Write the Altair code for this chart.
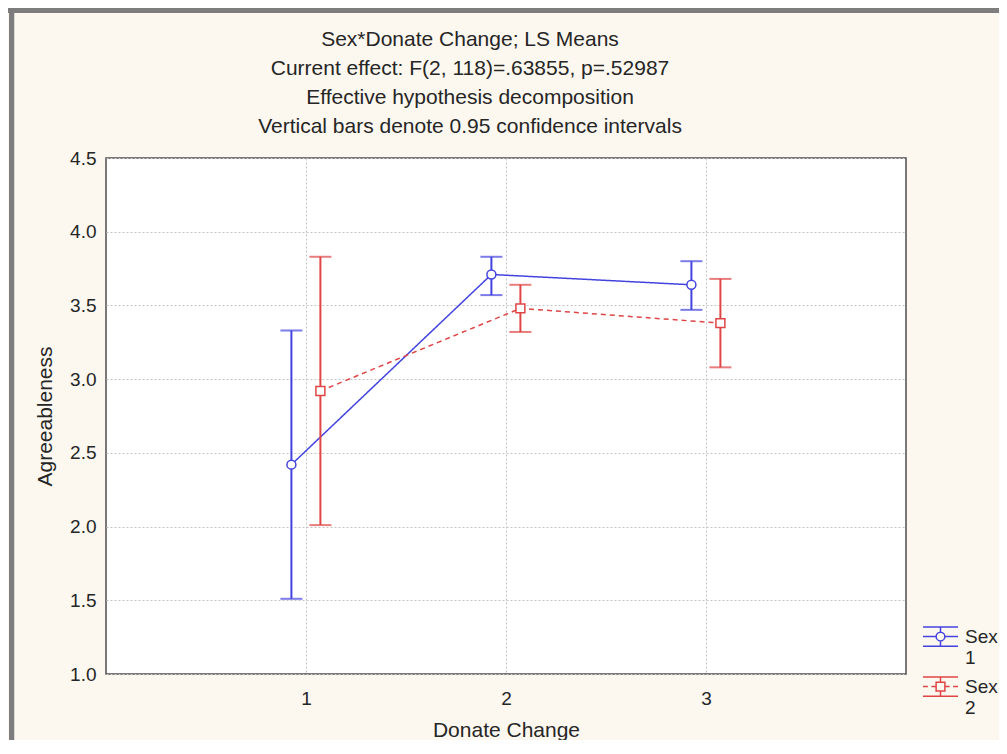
import altair as alt
import pandas as pd

# ---- data ----
categories = [1, 2, 3]
sex_levels = ["1", "2"]
sex1_mean = [2.42, 3.71, 3.64]
sex1_low = [1.51, 3.57, 3.47]
sex1_high = [3.33, 3.83, 3.80]
sex2_mean = [2.92, 3.48, 3.38]
sex2_low = [2.01, 3.32, 3.08]
sex2_high = [3.83, 3.64, 3.68]

title_lines = [
    "Sex*Donate Change; LS Means",
    "Current effect: F(2, 118)=.63855, p=.52987",
    "Effective hypothesis decomposition",
    "Vertical bars denote 0.95 confidence intervals",
]
y_ticks = [1.0, 1.5, 2.0, 2.5, 3.0, 3.5, 4.0, 4.5]

rows = []
for s, means, lows, highs in [("1", sex1_mean, sex1_low, sex1_high),
                              ("2", sex2_mean, sex2_low, sex2_high)]:
    for c, m, lo, hi in zip(categories, means, lows, highs):
        rows.append({"Sex": s, "cat": c, "mean": m, "low": lo, "high": hi})
df = pd.DataFrame(rows)

# ---- style ----
BLUE = "#4343e0"
RED = "#e04545"
FONT = "Liberation Sans"
TXT = "#262626"
W, H = 800, 516
PAD = {"left": 98, "top": 150, "right": 93, "bottom": 66}

base = alt.Chart(df).transform_calculate(
    xp="datum.cat + (datum.Sex == '1' ? -0.073 : 0.072)"
)

x_enc = alt.X(
    "xp:Q",
    scale=alt.Scale(domain=[0, 4], nice=False, zero=False),
    axis=alt.Axis(values=categories, title="Donate Change", titleX=W / 2, titleY=56,
                  titleBaseline="middle", labelPadding=15, format="d"),
)
y_scale = alt.Scale(domain=[1, 4.5], nice=False, zero=False)
y_enc = alt.Y(
    "mean:Q",
    scale=y_scale,
    axis=alt.Axis(values=y_ticks, format=".1f", title="Agreeableness", titleX=-61,
                  titleY=H / 2, titleBaseline="middle", labelPadding=10),
)

layers = []
for s, col, dash, shape in [("1", BLUE, [1, 0], "circle"), ("2", RED, [5, 4], "square")]:
    sub = base.transform_filter(alt.datum.Sex == s)
    layers.append(sub.mark_line(color=col, strokeWidth=1.5, strokeDash=dash).encode(x=x_enc, y=y_enc))
    layers.append(sub.mark_rule(color=col, strokeWidth=2).encode(
        x="xp:Q", y=alt.Y("low:Q", scale=y_scale), y2="high:Q"))
    layers.append(sub.mark_tick(color=col, orient="horizontal", size=22, thickness=2).encode(
        x="xp:Q", y=alt.Y("low:Q", scale=y_scale)))
    layers.append(sub.mark_tick(color=col, orient="horizontal", size=22, thickness=2).encode(
        x="xp:Q", y=alt.Y("high:Q", scale=y_scale)))
    layers.append(sub.mark_point(shape=shape, filled=False, fill="white", fillOpacity=1,
                                 color=col, stroke=col, strokeWidth=1.5, size=80, opacity=1).encode(
        x="xp:Q", y=alt.Y("mean:Q", scale=y_scale)))

# legend icons (error bar + marker), drawn by the legend itself
path1 = ("M-1,-0.55H1M-1,0.55H1M0,-0.55V-0.25M0,0.25V0.55M-1,0H-0.25M0.25,0H1"
         "M0.25,0A0.25,0.25 0 1,1 -0.25,0A0.25,0.25 0 1,1 0.25,0Z")
path2 = ("M-1,-0.55H1M-1,0.55H1M0,-0.55V-0.25M0,0.25V0.55M-1,0H-0.72M-0.52,0H-0.28"
         "M0.28,0H0.52M0.72,0H1M-0.25,-0.25H0.25V0.25H-0.25Z")

leg = alt.Legend(
    title=None, orient="none", legendX=816, legendY=460,
    labelExpr="['Sex', datum.label]", labelFont=FONT, labelFontSize=19, labelColor=TXT,
    symbolSize=1225, symbolStrokeWidth=1.5, labelOffset=6,
    rowPadding=0, padding=0, symbolOpacity=1,
)
legend_layer = base.mark_point(opacity=0, filled=False, strokeWidth=1.5).encode(
    x="xp:Q",
    y=alt.Y("mean:Q", scale=y_scale),
    color=alt.Color("Sex:N", scale=alt.Scale(domain=sex_levels, range=[BLUE, RED]), legend=leg),
    shape=alt.Shape("Sex:N", scale=alt.Scale(domain=sex_levels, range=[path1, path2]), legend=leg),
)

# window frame of the screenshot
frame_left = alt.Chart(df).mark_rule(color="#7d7d7d", strokeWidth=4.5).encode(
    x=alt.value(-94.2), y=alt.value(-146), y2=alt.value(H + PAD["bottom"]))
frame_top = alt.Chart(df).mark_rule(color="#7d7d7d", strokeWidth=5).encode(
    y=alt.value(-148), x=alt.value(-98), x2=alt.value(W + PAD["right"]))

chart = alt.layer(*layers, legend_layer, frame_left, frame_top).properties(
    width=W, height=H,
    autosize=alt.AutoSizeParams(type="none"),
    padding=PAD,
    background="#fcf8f0",
    title=alt.TitleParams(
        text=title_lines, fontSize=21, lineHeight=29.3, font=FONT, color=TXT,
        fontWeight="normal", anchor="middle", dx=-36, offset=-151, baseline="bottom",
    ),
).configure_view(
    fill="white", stroke="#4d4d4d", strokeWidth=1.5,
).configure_axis(
    labelFont=FONT, labelFontSize=19, labelColor=TXT,
    titleFont=FONT, titleFontSize=21, titleFontWeight="normal", titleColor=TXT,
    domain=False, ticks=False, tickSize=0,
    grid=True, gridColor="#c4c4c4", gridDash=[2, 2], gridWidth=1,
)

chart.save("out.html", embed_options={"renderer": "svg", "actions": False})
